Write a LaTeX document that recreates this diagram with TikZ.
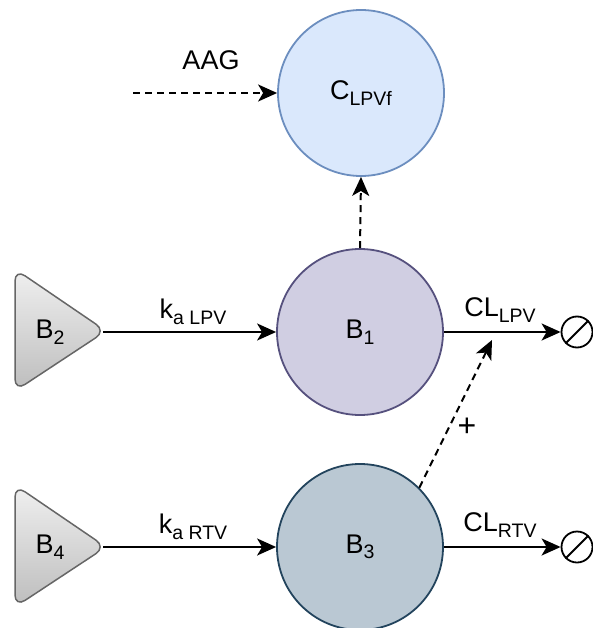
\documentclass[tikz,border=0pt]{standalone}
\usepackage{fontspec}
\setmainfont{Liberation Sans}
\usetikzlibrary{arrows.meta}
\definecolor{cfillC}{HTML}{DAE8FC}
\definecolor{cdrawC}{HTML}{6C8EBF}
\definecolor{cfillB}{HTML}{D0CEE2}
\definecolor{cdrawB}{HTML}{56517E}
\definecolor{cfillD}{HTML}{BAC8D3}
\definecolor{cdrawD}{HTML}{23445D}
\definecolor{ctriTop}{HTML}{F0F0F0}
\definecolor{ctriBot}{HTML}{BDBDBD}
\definecolor{ctriDraw}{HTML}{666666}
\newcommand{\sbx}[1]{\raisebox{-5.5pt}{\fontsize{19.5}{20}\selectfont #1}}
\tikzset{
  every node/.style={font=\fontsize{27}{29}\selectfont},
  comp/.style={circle, minimum size=166pt, inner sep=0pt, line width=1.8pt},
  arr/.style={line width=2pt, -{Stealth[length=19pt,width=17pt,inset=5pt]}},
  darr/.style={arr, dash pattern=on 7pt off 5pt},
  tri/.style={line width=1.5pt, draw=ctriDraw, top color=ctriTop, bottom color=ctriBot, rounded corners=12pt},
  sink/.style={circle, draw, line width=1.8pt, minimum size=31pt, inner sep=0pt},
  lbl/.style={inner sep=0pt}
}
\begin{document}
\begin{tikzpicture}[x=1pt,y=-1pt]
\useasboundingbox (0,0) rectangle (592,628);
% compartments
\node[comp, draw=cdrawC, fill=cfillC] (C) at (361,93) {C\sbx{LPVf}};
\node[comp, draw=cdrawB, fill=cfillB] (B1) at (360,332) {B\sbx{1}};
\node[comp, draw=cdrawD, fill=cfillD] (B3) at (360,547) {B\sbx{3}};
% dose triangles
\draw[tri] (15,269) -- (106,331) -- (15,391) -- cycle;
\coordinate (B2tip) at (103,332);
\node[lbl] (B2) at (50,332) {B\sbx{2}};
\draw[tri] (15,485) -- (106,547) -- (15,607) -- cycle;
\coordinate (B4tip) at (103,547);
\node[lbl] (B4) at (50,547) {B\sbx{4}};
% sinks
\node[sink] (S1) at (577,332) {};
\draw[line width=1.8pt] (S1.225) -- (S1.45);
\node[sink] (S2) at (577,547) {};
\draw[line width=1.8pt] (S2.225) -- (S2.45);
% AAG input
\coordinate (aag0) at (133,93);
\node[lbl] (aag) at (211,60) {AAG};
\draw[darr] (aag0) -- (C.west);
% B1 -> C
\draw[darr] (B1.north) -- (C.south);
% absorption
\draw[arr] (B2tip) -- (B1.west);
\node[lbl] (ka1) at (193,312) {k\sbx{a LPV}};
\draw[arr] (B4tip) -- (B3.west);
\node[lbl] (ka2) at (193,527) {k\sbx{a RTV}};
% clearance
\draw[arr] (B1.east) -- (S1.west);
\node[lbl] (cl1) at (500,310) {CL\sbx{LPV}};
\draw[arr] (B3.east) -- (S2.west);
\node[lbl] (cl2) at (500,525) {CL\sbx{RTV}};
% modulation
\coordinate (mod) at (492,340);
\draw[darr] (B3.45) -- (mod);
\node[lbl, font=\fontsize{32}{32}\selectfont] (plus) at (467,427) {+};
\end{tikzpicture}
\end{document}
